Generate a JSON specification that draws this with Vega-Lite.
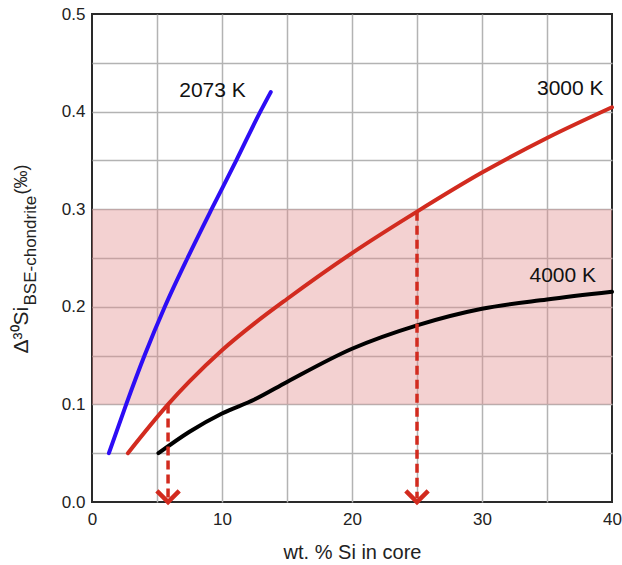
{
  "$schema": "https://vega.github.io/schema/vega-lite/v6.json",
  "width": 520,
  "height": 488,
  "autosize": {"type": "none"},
  "padding": {"left": 92, "top": 14, "right": 10, "bottom": 63},
  "background": "white",
  "config": {
    "view": {"stroke": "#2a2a2a", "strokeWidth": 2},
    "font": "Liberation Sans",
    "axis": {"titleFontWeight": "normal", "labelColor": "#222222", "titleColor": "#222222", "labelFont": "Liberation Sans", "titleFont": "Liberation Sans"}
  },
  "encoding": {
    "x": {
      "field": "x",
      "type": "quantitative",
      "scale": {"domain": [0, 40], "nice": false},
      "axis": {
        "title": "wt. % Si in core",
        "values": [0, 5, 10, 15, 20, 25, 30, 35, 40],
        "labelExpr": "datum.value % 10 == 0 ? datum.label : ''",
        "grid": true,
        "gridColor": "#b3b3b3",
        "gridWidth": 1.5,
        "gridOpacity": {"condition": {"test": "datum.value < 0.5 || datum.value > 39.5", "value": 0}, "value": 1},
        "ticks": false,
        "domain": false,
        "labelFontSize": 17,
        "labelPadding": 9,
        "labelFlush": false,
        "titleFontSize": 20,
        "titleAlign": "center",
        "titleBaseline": "alphabetic",
        "titleX": 260,
        "titleY": 56
      }
    }
  },
  "layer": [
    {
      "data": {"values": [{"x": 0, "x2": 40, "y": 0.1, "y2": 0.3}]},
      "mark": {"type": "rect", "fill": "#e08c8c", "opacity": 0.4},
      "encoding": {
        "x2": {"field": "x2"},
        "y": {
          "field": "y",
          "type": "quantitative",
          "scale": {"domain": [0, 0.5], "nice": false},
          "axis": {
            "orient": "left",
            "title": "Δ³⁰Si",
            "values": [0, 0.05, 0.1, 0.15, 0.2, 0.25, 0.3, 0.35, 0.4, 0.45, 0.5],
            "labelExpr": "round(datum.value * 100) % 10 == 0 ? format(datum.value, '.1f') : ''",
            "grid": true,
            "gridColor": "#b3b3b3",
            "gridWidth": 1.5,
            "gridOpacity": {"condition": {"test": "datum.value < 0.01 || datum.value > 0.49", "value": 0}, "value": 1},
            "ticks": false,
            "domain": false,
            "labelFontSize": 17,
            "labelPadding": 7,
            "labelFlush": false,
            "titleFontSize": 21,
            "titleAngle": 270,
            "titleAlign": "left",
            "titleBaseline": "alphabetic",
            "titleX": -65,
            "titleY": 339
          }
        },
        "y2": {"field": "y2"}
      }
    },
    {
      "data": {"values": [
        {"series": "2073 K", "x": 1.3, "y": 0.05},
        {"series": "2073 K", "x": 2.63, "y": 0.1},
        {"series": "2073 K", "x": 4.04, "y": 0.15},
        {"series": "2073 K", "x": 5.6, "y": 0.2},
        {"series": "2073 K", "x": 7.35, "y": 0.25},
        {"series": "2073 K", "x": 9.2, "y": 0.3},
        {"series": "2073 K", "x": 11.1, "y": 0.35},
        {"series": "2073 K", "x": 12.95, "y": 0.4},
        {"series": "2073 K", "x": 13.75, "y": 0.42},
        {"series": "3000 K", "x": 2.76, "y": 0.05},
        {"series": "3000 K", "x": 5.85, "y": 0.1},
        {"series": "3000 K", "x": 7.5, "y": 0.1235},
        {"series": "3000 K", "x": 10, "y": 0.1555},
        {"series": "3000 K", "x": 12.5, "y": 0.183},
        {"series": "3000 K", "x": 15, "y": 0.208},
        {"series": "3000 K", "x": 20, "y": 0.255},
        {"series": "3000 K", "x": 25, "y": 0.2975},
        {"series": "3000 K", "x": 30, "y": 0.3375},
        {"series": "3000 K", "x": 35, "y": 0.373},
        {"series": "3000 K", "x": 40, "y": 0.4045},
        {"series": "4000 K", "x": 5.11, "y": 0.05},
        {"series": "4000 K", "x": 7.5, "y": 0.072},
        {"series": "4000 K", "x": 10, "y": 0.0907},
        {"series": "4000 K", "x": 12.5, "y": 0.105},
        {"series": "4000 K", "x": 15, "y": 0.123},
        {"series": "4000 K", "x": 20, "y": 0.157},
        {"series": "4000 K", "x": 25, "y": 0.181},
        {"series": "4000 K", "x": 30, "y": 0.198},
        {"series": "4000 K", "x": 35, "y": 0.2075},
        {"series": "4000 K", "x": 40, "y": 0.2154}
      ]},
      "mark": {"type": "line", "strokeWidth": 4, "interpolate": "monotone", "strokeCap": "round"},
      "encoding": {
        "y": {
          "field": "y",
          "type": "quantitative",
          "scale": {"domain": [0, 0.5], "nice": false},
          "axis": {
            "orient": "left",
            "title": "BSE-chondrite",
            "labels": false,
            "ticks": false,
            "domain": false,
            "grid": false,
            "titleFontSize": 17,
            "titleAngle": 270,
            "titleAlign": "left",
            "titleBaseline": "alphabetic",
            "titleX": -56.5,
            "titleY": 291
          }
        },
        "color": {
          "field": "series",
          "type": "nominal",
          "scale": {"domain": ["2073 K", "3000 K", "4000 K"], "range": ["#2d0df5", "#d22b1f", "#000000"]},
          "legend": null
        }
      }
    },
    {
      "data": {"values": [
        {"label": "2073 K", "x": 11.83, "y": 0.4215},
        {"label": "3000 K", "x": 39.35, "y": 0.423},
        {"label": "4000 K", "x": 38.77, "y": 0.2315}
      ]},
      "mark": {"type": "text", "align": "right", "baseline": "middle", "fontSize": 21, "font": "Liberation Sans", "color": "#111111"},
      "encoding": {
        "y": {
          "field": "y",
          "type": "quantitative",
          "scale": {"domain": [0, 0.5], "nice": false},
          "axis": {
            "orient": "left",
            "title": "(‰)",
            "labels": false,
            "ticks": false,
            "domain": false,
            "grid": false,
            "titleFontSize": 18,
            "titleAngle": 270,
            "titleAlign": "left",
            "titleBaseline": "alphabetic",
            "titleX": -66,
            "titleY": 180
          }
        },
        "text": {"field": "label"}
      }
    },
    {
      "data": {"values": [
        {"x": 5.85, "y": 0.1, "y2": 0.004},
        {"x": 25, "y": 0.2975, "y2": 0.004}
      ]},
      "mark": {"type": "rule", "color": "#d22b1f", "strokeWidth": 3.5, "strokeDash": [9, 5]},
      "encoding": {
        "y": {"field": "y", "type": "quantitative", "scale": {"domain": [0, 0.5], "nice": false}, "axis": null},
        "y2": {"field": "y2"}
      }
    },
    {
      "data": {"values": [
        {"x": 5.85, "y": 0.0},
        {"x": 25, "y": 0.0}
      ]},
      "mark": {"type": "point", "shape": "M-1,-1L0,0L1,-1", "filled": false, "stroke": "#d22b1f", "strokeWidth": 4.5, "size": 500, "opacity": 1, "strokeJoin": "miter"},
      "encoding": {
        "y": {"field": "y", "type": "quantitative", "scale": {"domain": [0, 0.5], "nice": false}, "axis": null}
      }
    }
  ],
  "resolve": {"axis": {"y": "independent"}}
}
